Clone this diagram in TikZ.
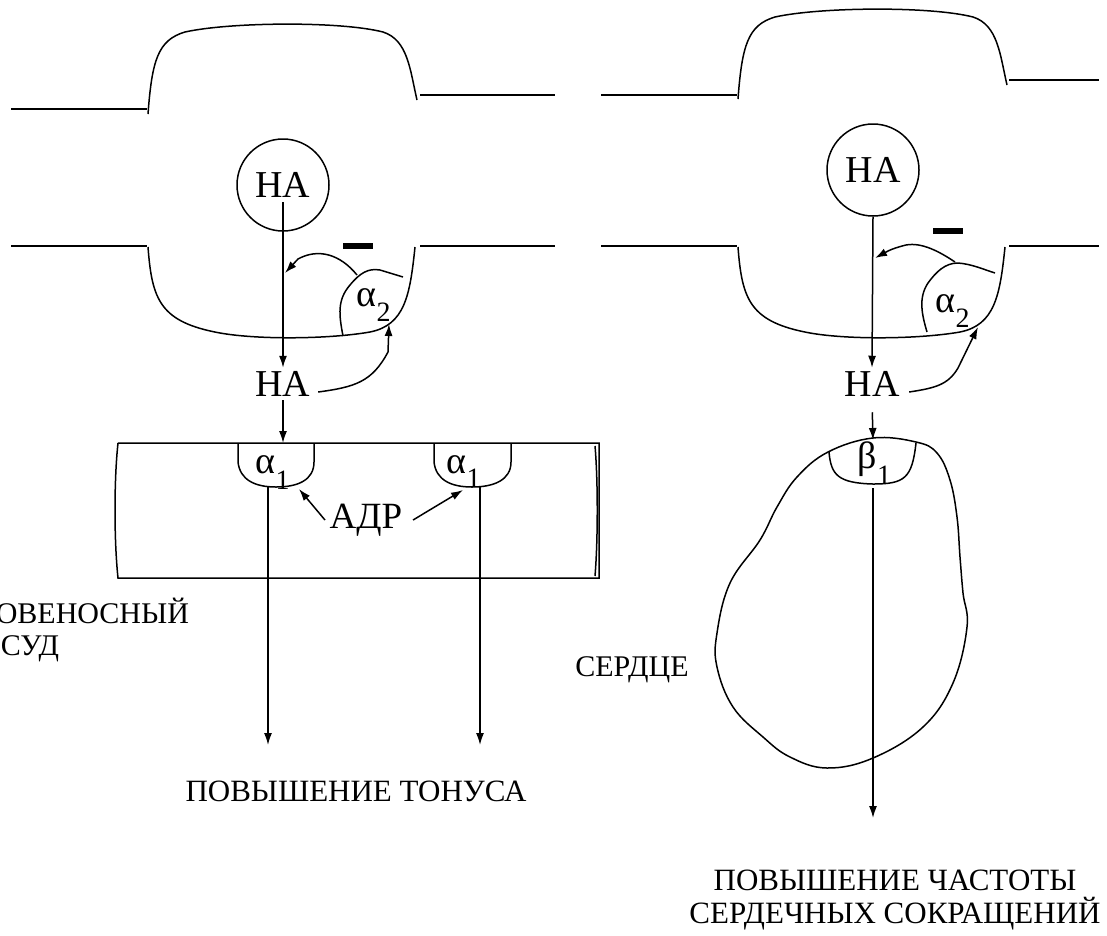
\documentclass[tikz,border=0pt]{standalone}
\usepackage{fontspec}
\setmainfont{Liberation Serif}
\usetikzlibrary{arrows.meta,positioning}

\begin{document}
\begin{tikzpicture}[x=1pt,y=-1pt,line width=1.5pt,
  arr/.style={-{Latex[length=12pt,width=8pt]}},
  na/.style={font=\fontsize{38}{40}\selectfont,inner sep=3pt,text height=25pt,text depth=0pt},
  ring/.style={na,draw,circle,minimum size=92pt,inner sep=0pt},
  greek/.style={font=\fontsize{38}{40}\selectfont,inner sep=0pt,anchor=base west},
  caption/.style={font=\fontsize{31}{33}\selectfont,align=center,inner sep=0pt}]
\useasboundingbox (0,0) rectangle (1107,935);
\clip (0,0) rectangle (1107,935);

% left synapse (vessel)
\draw (11,109) -- (147,109);
\draw (148,114) .. controls (152,60) and (158,40) .. (185,32) .. controls (230,22) and (340,21) .. (383,32) .. controls (408,40) and (410,70) .. (417,100);
\draw (420,95) -- (555,95);
\draw (11,246) -- (147,246);
\draw (148,247) .. controls (152,300) and (160,322) .. (220,333) .. controls (260,340) and (330,339) .. (370,332) .. controls (405,325) and (410,295) .. (415,247);
\draw (420,246) -- (555,246);
\fill (343,243) rectangle (373,249);

\node[ring] (naL) at (283,185) {НА};
\node[na] (naLlow) at (283,384) {НА};
\draw (343,336) .. controls (339,315) and (337,300) .. (350,285) .. controls (360,273) and (368,268) .. (380,270) -- (403,277);
\node[greek] (a2L) at (356,306) {α\raisebox{-15pt}{\fontsize{28}{28}\selectfont 2}};
\coordinate (inhLs) at (357,275);
\coordinate (inhL) at (285,273);
\coordinate (fbL) at (389,324);
\draw[arr] ([yshift=-17pt]naL.center) -- (naLlow.north);
\draw[arr] (inhLs) .. controls (340,254) and (318,248) .. (298,259) -- (inhL);
\draw[arr] (naLlow.east) ++(4,8) .. controls (355,387) and (372,382) .. (388,352) -- (fbL);

% vessel
\draw (118,443) -- (599,443) -- (599,578) -- (118,578) .. controls (114,540) and (114,480) .. (118,443);
\draw (595,446) .. controls (598,480) and (598,540) .. (595,576);
\coordinate (vesL) at (283,443);
\draw[arr] (naLlow.south) -- (vesL);
\draw (238,443) -- (238,462) .. controls (240,480) and (255,487) .. (276,487) .. controls (298,487) and (314,480) .. (314,462) -- (314,443);
\draw (434,443) -- (434,462) .. controls (436,480) and (451,487) .. (472,487) .. controls (494,487) and (511,480) .. (511,462) -- (511,443);
\node[greek] (a1L) at (255,473) {α\raisebox{-16pt}{\fontsize{28}{28}\selectfont 1}};
\node[greek] (a1R) at (446,473) {α\raisebox{-14pt}{\fontsize{28}{28}\selectfont 1}};
\node[font=\fontsize{37}{40}\selectfont,inner sep=4pt] (adr) at (366,520) {АДР};
\coordinate (r1L) at (299,489);
\coordinate (r1R) at (463,490);
\draw[arr] (adr.west) -- (r1L);
\draw[arr] ([xshift=6pt]adr.east) -- (r1R);
\coordinate (outL) at (268,745);
\coordinate (outR) at (480,745);
\draw[arr] (268,487) -- (outL);
\draw[arr] (480,487) -- (outR);
\node[font=\fontsize{30}{32}\selectfont,align=left,inner sep=0pt,anchor=west] (vessel) at (-42,630) {КРОВЕНОСНЫЙ\\СОСУД};
\node[caption] (tone) at (356,791) {ПОВЫШЕНИЕ ТОНУСА};

% right synapse (heart)
\draw (601,95) -- (737,95);
\draw (738,99) .. controls (742,45) and (748,25) .. (775,17) .. controls (820,7) and (930,6) .. (973,17) .. controls (998,25) and (1000,55) .. (1007,85);
\draw (1009,80) -- (1099,80);
\draw (601,246) -- (737,246);
\draw (738,247) .. controls (742,300) and (750,322) .. (810,333) .. controls (850,340) and (920,339) .. (960,332) .. controls (995,325) and (1000,295) .. (1005,247);
\draw (1009,246) -- (1099,246);
\fill (933,228) rectangle (963,234);

\node[ring] (naR) at (873,170) {НА};
\node[na] (naRlow) at (872,384) {НА};
\draw (927,332) .. controls (922,315) and (918,298) .. (928,283) .. controls (936,272) and (945,263) .. (958,263) .. controls (972,264) and (985,270) .. (995,273);
\node[greek] (a2R) at (935,312) {α\raisebox{-15pt}{\fontsize{28}{28}\selectfont 2}};
\coordinate (inhRs) at (955,262);
\coordinate (inhR) at (875,258);
\coordinate (fbR) at (978,327);
\draw[arr] (naR.south) -- (naRlow.north);
\draw[arr] (inhRs) .. controls (940,252) and (922,242) .. (906,245) .. controls (898,247) and (892,249) .. (888,251) -- (inhR);
\draw[arr] (naRlow.east) ++(6,8) .. controls (935,388) and (948,385) .. (958,368) -- (fbR);

% heart
\draw plot[smooth cycle,tension=0.65] coordinates {(873,438) (916,442) (937,453) (950,480) (957,517) (960,557) (963,593) (967,627) (953,683) (923,727) (873,758) (827,768) (790,757) (763,737) (733,707) (717,667) (717,633) (730,583) (760,540) (777,507) (797,477) (828,452)};
\draw (829,452) .. controls (831,475) and (838,483) .. (873,484) .. controls (905,484) and (912,478) .. (916,443);
\node[greek] (b1) at (857,468) {β\raisebox{-16pt}{\fontsize{28}{28}\selectfont 1}};
\coordinate (hrtTop) at (873,440);
\coordinate (hrtOut) at (873,818);
\draw[arr,shorten <=12pt] (naRlow.south) -- (hrtTop);
\draw[arr] (873,488) -- (hrtOut);
\node[font=\fontsize{30}{32}\selectfont,inner sep=0pt] (heart) at (632,670) {СЕРДЦЕ};
\node[caption] (rate) at (895,900) {ПОВЫШЕНИЕ ЧАСТОТЫ\\СЕРДЕЧНЫХ СОКРАЩЕНИЙ};
\end{tikzpicture}
\end{document}
